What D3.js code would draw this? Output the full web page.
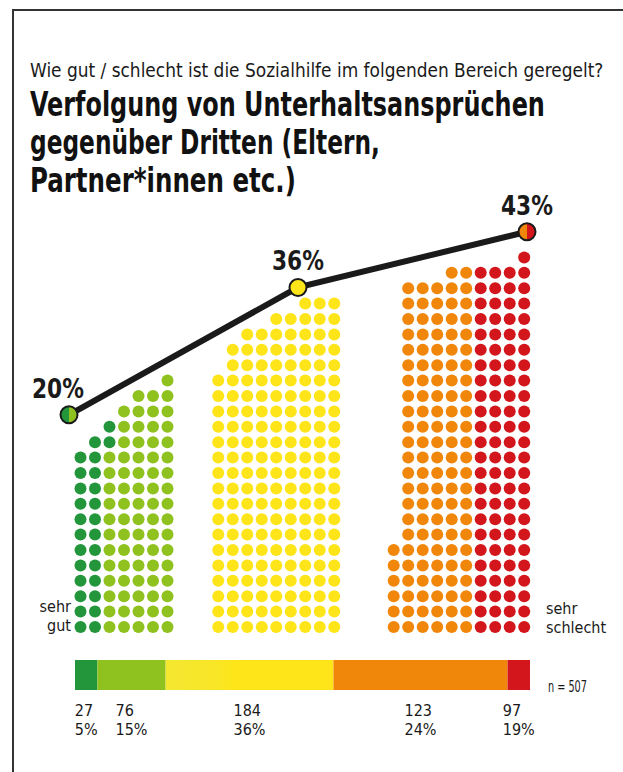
<!DOCTYPE html>
<html>
<head>
<meta charset="utf-8">
<script src="https://cdn.jsdelivr.net/npm/d3@7"></script>
<style>
  body { margin: 0; background: #fff; }
  text { font-family: "Liberation Sans Narrow", "DejaVu Sans Condensed", "Roboto", sans-serif; }
</style>
</head>
<body>
<div id="chart"></div>
<script>
// Antworten von "sehr gut" bis "sehr schlecht"
const categories = ["sehr gut", "eher gut", "teils/teils", "eher schlecht", "sehr schlecht"];
const counts = [27, 76, 184, 123, 97];
const shareLabels = ["5%", "15%", "36%", "24%", "19%"];
const total = 507;

// zusammengefasste Gruppen (Linie oben)
const groupNames = ["gut", "mittel", "schlecht"];
const groupPercent = [20, 36, 43];
const groupMembers = [[0, 1], [2], [3, 4]];

// Segmentgrenzen der Leiste unten, so wie sie im Original gezeichnet ist (in Personen)
const barEnds = [25, 101, 288, 482, 507];

const colors = ["#23963b", "#8fc11f", "#fde51a", "#f0860a", "#d2161c"];

// Form der Punktstapel: Punkte pro Reihe von unten (letzte Reihe = Rest), rechtsbündig
const stackShape = [
  { cols: 7, rows: [[7, 12], [6, 1], [5, 1], [4, 1], [3, 1]], start: 0, edge: "left", edgeWidth: 2 },
  { cols: 9, rows: [[9, 17], [8, 2], [7, 1], [5, 1]], start: 9.5, edge: null, edgeWidth: 0 },
  { cols: 10, rows: [[10, 6], [9, 17], [6, 1]], start: 21.6, edge: "right", edgeWidth: 4 }
];

const width = 623;
const height = 772;

const svg = d3.select("#chart")
  .append("svg")
  .attr("width", width)
  .attr("height", height);

// Text horizontal auf eine Breite stauchen (schmale Schrift nachahmen)
function squeeze(sel, target) {
  sel.each(function(d) {
    const t = d3.select(this);
    const w = this.getComputedTextLength();
    const tw = typeof target === "function" ? target(d) : target;
    const x = +t.attr("x"), y = +t.attr("y");
    const s = tw / w;
    t.attr("transform", `translate(${x},${y}) scale(${s},1)`).attr("x", 0).attr("y", 0);
  });
}

// Rahmen (oben und links)
svg.append("path")
  .attr("d", "M13,772 V10 H623")
  .attr("fill", "none")
  .attr("stroke", "#333")
  .attr("stroke-width", 2);

// Titel
svg.append("text")
  .attr("x", 30).attr("y", 77)
  .attr("font-size", 20)
  .attr("fill", "#1a1a1a")
  .text("Wie gut / schlecht ist die Sozialhilfe im folgenden Bereich geregelt?")
  .call(squeeze, 574);

const titleLines = [
  ["Verfolgung von Unterhaltsansprüchen", 515],
  ["gegenüber Dritten (Eltern,", 350],
  ["Partner*innen etc.)", 266]
];
svg.selectAll(".title")
  .data(titleLines)
  .enter()
  .append("text")
  .attr("class", "title")
  .attr("x", 30)
  .attr("y", (d, i) => 116 + i * 38)
  .attr("font-size", 34)
  .attr("font-weight", "bold")
  .attr("fill", "#111")
  .text(d => d[0])
  .call(squeeze, d => d[1]);

// Skalen für die Punkte
const colStep = 14.5;
const xCol = d3.scaleLinear().domain([0, 1]).range([80.5, 80.5 + colStep]);
const yRow = d3.scaleLinear().domain([0, 1]).range([627, 627 - 15.4]);

// Punkte aufbauen
const dots = [];
stackShape.forEach((g, gi) => {
  const members = groupMembers[gi];
  let remaining = d3.sum(members, m => counts[m]);
  const widths = [];
  g.rows.forEach(([w, n]) => { for (let k = 0; k < n; k++) widths.push(w); });
  let edgeLeft = g.edge === "left" ? counts[members[0]] : g.edge === "right" ? counts[members[members.length - 1]] : 0;
  let row = 0;
  while (remaining > 0) {
    const w = Math.min(row < widths.length ? widths[row] : g.cols, remaining);
    const cols = d3.range(g.cols - w, g.cols);
    const nEdge = Math.min(g.edgeWidth, edgeLeft, w);
    edgeLeft -= nEdge;
    cols.forEach((c, k) => {
      let cat;
      if (g.edge === "left") cat = k < nEdge ? members[0] : members[1];
      else if (g.edge === "right") cat = k >= w - nEdge ? members[members.length - 1] : members[0];
      else cat = members[0];
      dots.push({ x: xCol(g.start + c), y: yRow(row), cat });
    });
    remaining -= w;
    row++;
  }
});

svg.append("g")
  .selectAll("circle")
  .data(dots)
  .enter()
  .append("circle")
  .attr("cx", d => d.x)
  .attr("cy", d => d.y)
  .attr("r", 6)
  .attr("fill", d => colors[d.cat]);

// Linie mit Prozentwerten
const xPoint = d3.scalePoint().domain(groupNames).range([69, 527]);
const yPct = d3.scaleLinear().domain([0, 50]).range([574, 176]);

const line = d3.line()
  .x((d, i) => xPoint(groupNames[i]))
  .y(d => yPct(d));

svg.append("path")
  .datum(groupPercent)
  .attr("fill", "none")
  .attr("stroke", "#1a1a1a")
  .attr("stroke-width", 6)
  .attr("d", line);

const arc = d3.arc().innerRadius(0).outerRadius(8.5);
const markers = svg.selectAll(".marker")
  .data(groupPercent)
  .enter()
  .append("g")
  .attr("class", "marker")
  .attr("transform", (d, i) => `translate(${xPoint(groupNames[i])},${yPct(d)})`);

markers.each(function(d, i) {
  const m = groupMembers[i];
  const g = d3.select(this);
  if (m.length === 2) {
    g.append("path").attr("d", arc({ startAngle: Math.PI, endAngle: 2 * Math.PI })).attr("fill", colors[m[0]]);
    g.append("path").attr("d", arc({ startAngle: 0, endAngle: Math.PI })).attr("fill", colors[m[1]]);
  } else {
    g.append("circle").attr("r", 8.5).attr("fill", colors[m[0]]);
  }
  g.append("circle").attr("r", 8.5).attr("fill", "none").attr("stroke", "#1a1a1a").attr("stroke-width", 2);
});

svg.selectAll(".pct")
  .data(groupPercent)
  .enter()
  .append("text")
  .attr("class", "pct")
  .attr("x", (d, i) => xPoint(groupNames[i]) + (i === 0 ? -11 : 0) - 26)
  .attr("y", d => yPct(d) - 17)
  .attr("font-size", 27)
  .attr("font-weight", "bold")
  .attr("fill", "#1a1a1a")
  .text(d => d + "%")
  .call(squeeze, 52);

// Randbeschriftung
svg.selectAll(".gut")
  .data(["sehr", "gut"])
  .enter()
  .append("text")
  .attr("class", "gut")
  .attr("x", 71)
  .attr("y", (d, i) => 612 + i * 19)
  .attr("text-anchor", "end")
  .attr("font-size", 16)
  .attr("fill", "#1a1a1a")
  .text(d => d);

svg.selectAll(".schlecht")
  .data(["sehr", "schlecht"])
  .enter()
  .append("text")
  .attr("class", "schlecht")
  .attr("x", 546)
  .attr("y", (d, i) => 614 + i * 19)
  .attr("font-size", 16)
  .attr("fill", "#1a1a1a")
  .text(d => d);

// Leiste unten
const xBar = d3.scaleLinear().domain([0, total]).range([75, 530]);
const segs = barEnds.map((e, i) => ({ start: i === 0 ? 0 : barEnds[i - 1], end: e, i }));

const defs = svg.append("defs");
const grad = defs.append("linearGradient").attr("id", "yellowFade");
grad.append("stop").attr("offset", "0%").attr("stop-color", "#f4e731");
grad.append("stop").attr("offset", "30%").attr("stop-color", "#f8e626");
grad.append("stop").attr("offset", "40%").attr("stop-color", colors[2]);
grad.append("stop").attr("offset", "100%").attr("stop-color", colors[2]);

svg.append("g")
  .selectAll("rect")
  .data(segs)
  .enter()
  .append("rect")
  .attr("x", d => xBar(d.start))
  .attr("y", 660)
  .attr("width", d => xBar(d.end) - xBar(d.start))
  .attr("height", 30)
  .attr("fill", d => d.i === 2 ? "url(#yellowFade)" : colors[d.i]);

svg.append("text")
  .attr("x", 548)
  .attr("y", 692)
  .attr("font-size", 16)
  .attr("fill", "#1a1a1a")
  .text("n = " + total)
  .call(squeeze, 39);

// Zahlen und Anteile unter der Leiste
const labelRows = [
  { y: 716, text: d => String(counts[d.i]) },
  { y: 735, text: d => shareLabels[d.i] }
];
const labelGroups = svg.selectAll(".lab")
  .data(segs)
  .enter()
  .append("g")
  .attr("class", "lab");

labelGroups.each(function(d) {
  const g = d3.select(this);
  const texts = labelRows.map(r => g.append("text")
    .attr("y", r.y)
    .attr("font-size", 16)
    .attr("fill", "#1a1a1a")
    .text(r.text(d)));
  const w = d3.max(texts, t => t.node().getComputedTextLength());
  const cx = (xBar(d.start) + xBar(d.end)) / 2;
  texts.forEach(t => t.attr("x", cx - w / 2));
});
</script>
</body>
</html>
